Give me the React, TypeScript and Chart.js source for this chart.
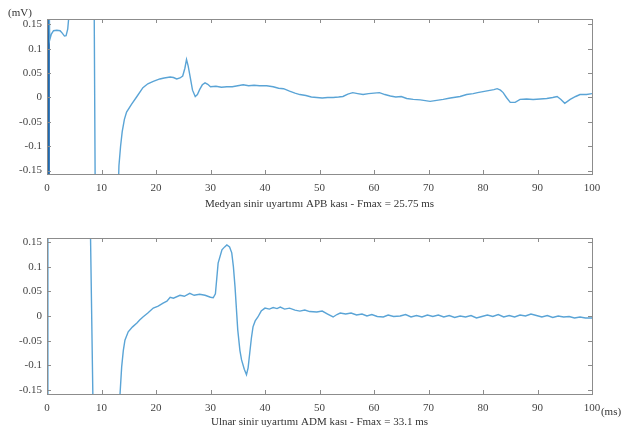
import React, { useEffect, useRef } from "react";
import { Chart, registerables } from "chart.js";

Chart.register(...registerables);

// ---------- data ----------
const xTicks = [0, 10, 20, 30, 40, 50, 60, 70, 80, 90, 100];
const yTicks = [-0.15, -0.1, -0.05, 0, 0.05, 0.1, 0.15];
const yTickLabels = ["-0.15", "-0.1", "-0.05", "0", "0.05", "0.1", "0.15"];

const topTitle = "Medyan sinir uyartımı APB kası - Fmax = 25.75 ms";
const bottomTitle = "Ulnar sinir uyartımı ADM kası - Fmax = 33.1 ms";
const yUnit = "(mV)";
const xUnit = "(ms)";

// stimulus artifacts
const medArtX = [0, 0.05, 0.1, 0.15, 0.2, 0.25];
const medArtY = [-0.3, 0.3, -0.3, 0.3, -0.3, 0.3];
const ulnArtX = [0, 0.05, 0.1, 0.15];
const ulnArtY = [-0.3, 0.3, -0.3, 0.3];

// median nerve trace
const medX = [0.25, 0.5, 0.8, 1.2, 1.8, 2.4, 2.8, 3.2, 3.5, 3.8, 4.0, 4.5, 8.6, 8.9, 12.8, 13.2, 13.5, 13.8, 14.2, 14.6, 15.5, 16.5, 17.6, 18.5, 19.5, 20.7, 21.5, 22.6, 23.2, 23.8, 24.4, 24.9, 25.3, 25.6, 25.9, 26.3, 26.7, 27.2, 27.6, 28, 28.5, 29, 29.5, 30, 31, 32, 33, 34, 35, 36, 37, 38, 39, 40.3, 41.5, 42.5, 43.4, 44.5, 45.5, 46.4, 47.5, 48.5, 49.5, 50.5, 51.5, 52.5, 53.5, 54.3, 55.2, 56.1, 57, 58, 59, 60, 61, 62, 63, 64, 65, 66, 67.2, 68.5, 70.3, 71.5, 72.7, 74, 75.8, 77, 78.2, 79, 80, 81, 82, 82.6, 83.2, 83.7, 84.3, 85, 85.9, 86.8, 88, 89.2, 90.5, 91.7, 92.8, 93.6, 94.3, 95, 95.5, 96, 97, 97.8, 99, 100];
const medY = [0.3, 0.118, 0.13, 0.137, 0.138, 0.137, 0.132, 0.126, 0.127, 0.14, 0.165, 0.3, 0.3, -0.3, -0.3, -0.14, -0.1, -0.07, -0.045, -0.03, -0.014, 0.002, 0.02, 0.028, 0.033, 0.038, 0.04, 0.042, 0.041, 0.038, 0.04, 0.044, 0.06, 0.078, 0.065, 0.04, 0.015, 0.002, 0.006, 0.016, 0.026, 0.03, 0.027, 0.022, 0.023, 0.021, 0.022, 0.022, 0.024, 0.026, 0.024, 0.025, 0.024, 0.024, 0.022, 0.019, 0.018, 0.013, 0.009, 0.006, 0.004, 0.001, 0, -0.001, 0, 0, 0.001, 0.002, 0.007, 0.01, 0.008, 0.006, 0.008, 0.009, 0.01, 0.006, 0.003, 0.001, 0.002, -0.002, -0.004, -0.005, -0.008, -0.006, -0.004, -0.001, 0.002, 0.006, 0.008, 0.01, 0.012, 0.014, 0.016, 0.018, 0.015, 0.01, 0, -0.01, -0.01, -0.004, -0.003, -0.004, -0.003, -0.002, 0, 0.002, -0.004, -0.012, -0.008, -0.004, 0.002, 0.006, 0.006, 0.008];

// ulnar nerve trace
const ulnX = [0.2, 7.8, 8.6, 13.2, 13.4, 13.7, 14.0, 14.3, 14.9, 15.7, 16.5, 17.0, 17.6, 18.5, 19.5, 20.4, 21.3, 22, 22.6, 23.2, 24.4, 25.2, 26.2, 27, 28, 29, 30, 30.5, 30.9, 31.4, 32.1, 32.6, 33, 33.5, 33.9, 34.2, 34.5, 35, 35.4, 35.7, 36.2, 36.6, 36.9, 37.2, 37.5, 37.8, 38.2, 38.7, 39.3, 40, 40.8, 41.5, 42.2, 42.8, 43.6, 44.5, 45.5, 46.4, 47.3, 48.2, 49.5, 50.5, 51.5, 52.5, 53.2, 53.8, 54.8, 55.8, 56.8, 57.8, 58.7, 59.6, 60.6, 61.7, 62.6, 63.6, 64.8, 65.8, 66.8, 67.8, 68.8, 69.8, 70.8, 71.8, 72.8, 73.8, 74.8, 75.8, 76.8, 77.8, 78.8, 79.8, 80.8, 81.8, 82.8, 83.8, 84.8, 85.8, 86.8, 87.8, 88.8, 89.8, 90.8, 91.8, 92.8, 93.8, 94.8, 95.8, 96.8, 97.8, 98.8, 100];
const ulnY = [0.3, 0.3, -0.3, -0.3, -0.158, -0.103, -0.07, -0.049, -0.032, -0.022, -0.014, -0.008, -0.002, 0.006, 0.016, 0.02, 0.026, 0.03, 0.038, 0.036, 0.042, 0.04, 0.046, 0.042, 0.044, 0.042, 0.038, 0.037, 0.045, 0.107, 0.134, 0.14, 0.144, 0.14, 0.128, 0.1, 0.059, -0.028, -0.07, -0.089, -0.108, -0.119, -0.105, -0.075, -0.045, -0.022, -0.01, -0.002, 0.01, 0.016, 0.014, 0.017, 0.015, 0.018, 0.014, 0.016, 0.012, 0.01, 0.012, 0.009, 0.008, 0.01, 0.004, -0.002, 0.003, 0.006, 0.004, 0.006, 0.002, 0.004, 0, 0.003, -0.001, -0.002, 0.002, -0.001, 0, 0.003, -0.002, 0.001, -0.002, 0.002, -0.001, 0.002, -0.002, 0.001, -0.003, 0, -0.002, 0.001, -0.004, -0.001, 0.002, -0.001, 0.003, -0.002, 0.001, -0.002, 0.002, 0, 0.004, 0.001, -0.002, 0.001, -0.003, 0, -0.002, -0.001, -0.004, -0.002, -0.004, -0.004];

// ---------- chart ----------
const FONT = "'Liberation Serif', 'DejaVu Serif', serif";
const LINE = "#5aa4d6";

function pts(xs: number[], ys: number[]) {
  return xs.map((x, i) => ({ x, y: ys[i] }));
}

function makeConfig(opts: {
  artX: number[]; artY: number[]; artColor: string; artWidth: number;
  xs: number[]; ys: number[]; title: string;
  padTop: number; padBottom: number; axisH: number; yMin: number; yMax: number;
  corner: "mV" | "ms";
}): any {
  const framePlugin = {
    id: "frame",
    afterDraw(chart: any) {
      const { ctx, chartArea: a, scales } = chart;
      ctx.save();
      ctx.strokeStyle = "#8c8c8c";
      ctx.lineWidth = 1;
      ctx.strokeRect(Math.round(a.left) + 0.5, Math.round(a.top) + 0.5, Math.round(a.width), Math.round(a.height));
      ctx.beginPath();
      xTicks.forEach((v) => {
        const px = Math.round(scales.x.getPixelForValue(v)) + 0.5;
        ctx.moveTo(px, a.top); ctx.lineTo(px, a.top + 4);
        ctx.moveTo(px, a.bottom); ctx.lineTo(px, a.bottom - 4);
      });
      yTicks.forEach((v) => {
        const py = Math.round(scales.y.getPixelForValue(v)) + 0.5;
        ctx.moveTo(a.left, py); ctx.lineTo(a.left + 4, py);
        ctx.moveTo(a.right, py); ctx.lineTo(a.right - 4, py);
      });
      ctx.stroke();
      ctx.fillStyle = "#333";
      ctx.font = `11px ${FONT}`;
      ctx.textAlign = "center";
      ctx.textBaseline = "middle";
      if (opts.corner === "mV") ctx.fillText(yUnit, 20, 13);
      else ctx.fillText(xUnit, 611, 196);
      ctx.restore();
    },
  };
  return {
    type: "line",
    data: {
      datasets: [
        { data: pts(opts.xs, opts.ys), borderColor: LINE, borderWidth: 1.4, pointRadius: 0, fill: false },
        { data: pts(opts.artX, opts.artY), borderColor: opts.artColor, borderWidth: opts.artWidth, pointRadius: 0, fill: false },
      ],
    },
    options: {
      animation: false,
      responsive: false,
      events: [],
      layout: { padding: { top: opts.padTop, right: 32, left: 0, bottom: opts.padBottom } },
      plugins: { legend: { display: false }, tooltip: { enabled: false } },
      scales: {
        x: {
          type: "linear",
          min: 0,
          max: 100,
          afterBuildTicks: (s: any) => { s.ticks = xTicks.map((v) => ({ value: v })); },
          afterFit: (s: any) => { s.height = opts.axisH; },
          grid: { display: false },
          border: { display: false },
          ticks: { color: "#444", font: { family: FONT, size: 11 }, padding: 0, maxRotation: 0 },
          title: { display: true, text: opts.title, color: "#333", font: { family: FONT, size: 11 }, padding: { top: 0, bottom: 0 } },
        },
        y: {
          type: "linear",
          min: opts.yMin,
          max: opts.yMax,
          afterBuildTicks: (s: any) => { s.ticks = yTicks.map((v) => ({ value: v })); },
          afterFit: (s: any) => { s.width = 47; },
          grid: { display: false, tickLength: 4 },
          border: { display: false },
          ticks: {
            color: "#444",
            font: { family: FONT, size: 11 },
            padding: 1,
            callback: (v: number) => {
              const i = yTicks.findIndex((t) => Math.abs(t - v) < 1e-9);
              return i >= 0 ? yTickLabels[i] : "";
            },
          },
        },
      },
    },
    plugins: [framePlugin],
  };
}

function ChartCanvas(props: { cfg: any; top: number }) {
  const ref = useRef<HTMLCanvasElement | null>(null);
  useEffect(() => {
    if (!ref.current) return;
    const chart = new Chart(ref.current, props.cfg);
    return () => chart.destroy();
  }, []);
  return (
    <canvas
      ref={ref}
      width={624}
      height={216}
      style={{ position: "absolute", left: 0, top: props.top, width: 624, height: 216 }}
    />
  );
}

export default function App() {
  const topCfg = makeConfig({
    artX: medArtX, artY: medArtY, artColor: "#1f68ad", artWidth: 3,
    xs: medX, ys: medY, title: topTitle,
    padTop: 19, padBottom: 5, axisH: 37, yMin: -0.157, yMax: 0.161, corner: "mV",
  });
  const botCfg = makeConfig({
    artX: ulnArtX, artY: ulnArtY, artColor: "#4c9ed6", artWidth: 2,
    xs: ulnX, ys: ulnY, title: bottomTitle,
    padTop: 22, padBottom: 3, axisH: 35, yMin: -0.158, yMax: 0.158, corner: "ms",
  });
  return (
    <div style={{ position: "fixed", left: 0, top: 0, width: 624, height: 432, background: "#fff" }}>
      <ChartCanvas cfg={topCfg} top={0} />
      <ChartCanvas cfg={botCfg} top={216} />
    </div>
  );
}
